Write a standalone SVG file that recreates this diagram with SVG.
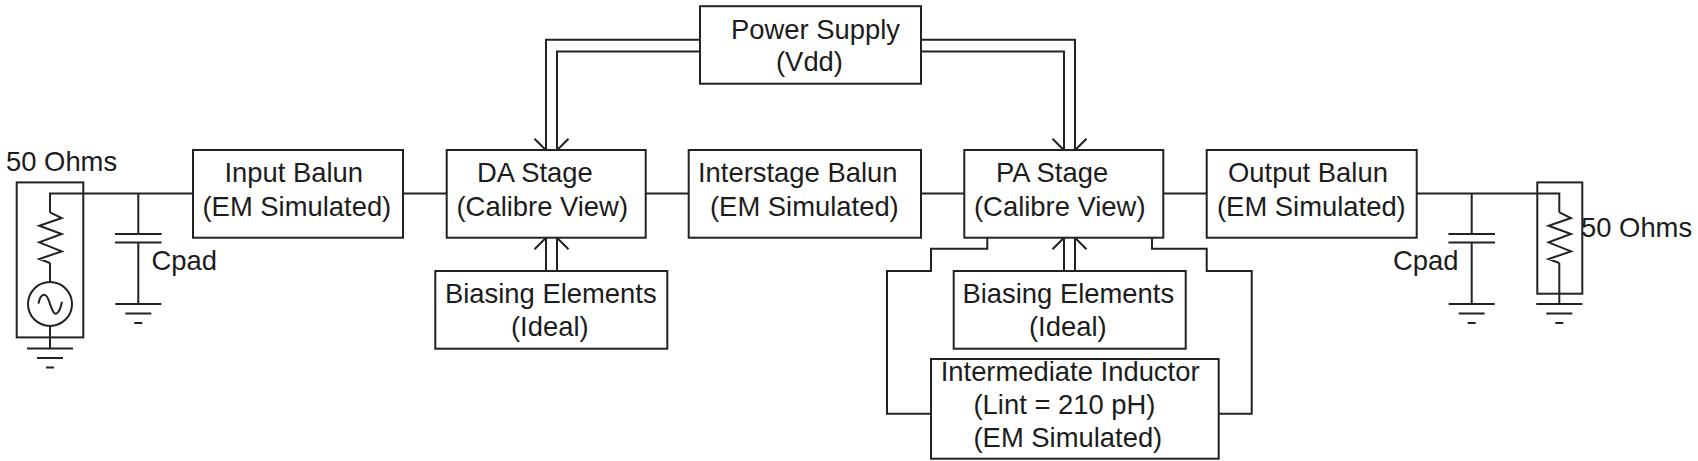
<svg xmlns="http://www.w3.org/2000/svg" width="1698" height="461" viewBox="0 0 1698 461">
<style>
rect,path,circle,line{fill:none;stroke:#222;stroke-width:2}
rect.b{fill:#fff}
text{font-family:"Liberation Sans",Arial,sans-serif;font-size:27.400px;fill:#1c1c1c}
</style>
<defs>
<path id="gnd" d="M-23 0H23M-13 9.500H13M-4 19H4"/>
<path id="res" d="M0 0L11.700 5.600L-10.700 13.300L11.700 21.600L-10.700 30L11.700 39L-10.700 46.600L0 50.600"/>
<path id="cap" d="M0 0V40.600M-23.300 40.600H23.300M-23.300 49H23.300M0 49V110.600"/>
</defs>
<rect width="1698" height="461" fill="#fff" style="stroke:none"/>
<g transform="translate(0 0.700)">
<g id="connectors">
<path d="M193 192.700H50V211.700"/>
<path d="M50 262.300V281"/>
<path d="M50 325V347.700"/>
<path d="M403 192.700H447M646 192.700H689M921 192.700H964.300M1163.300 192.700H1206.700"/>
<path d="M1416.700 192.700H1559.300V211.700M1559.300 262.300V303.300"/>
<path d="M700 39H546V149M700 50.700H557V149M534.500 138L546 149.500M568.500 138L557 149.500"/>
<path d="M921 39H1075V149M921 50.700H1064V149M1052.500 138L1064 149.500M1086.500 138L1075 149.500"/>
<path d="M546 270.300V237M557 270.300V237M534.500 248.500L546 237M568.500 248.500L557 237"/>
<path d="M1064 270.300V237M1075 270.300V237M1052.500 248.500L1064 237M1086.500 248.500L1075 237"/>
<path d="M987.300 237V248H931V270.300H887V413H931"/>
<path d="M1152 237V248H1206.700V270.300H1251.700V413H1218.700"/>
</g>
<g id="source-50-ohms">
<rect x="16.700" y="181.700" width="66.600" height="155"/>
<use href="#res" x="50" y="211.700"/>
<circle cx="50" cy="303.300" r="22"/>
<path d="M38.500 303C40 294 45 291 48 298S53 314 56 313 61 306 62 301"/>
<use href="#gnd" x="50" y="347.700"/>
<text x="6" y="170.500">50 Ohms</text>
</g>
<g id="cpad-left">
<use href="#cap" x="138.300" y="192.700"/>
<use href="#gnd" x="138.300" y="303.300"/>
<text x="151.500" y="269">Cpad</text>
</g>
<g id="input-balun">
<rect class="b" x="193" y="149.300" width="210" height="87.700"/>
<text x="224.500" y="181">Input Balun</text>
<text x="202.500" y="215">(EM Simulated)</text>
</g>
<g id="da-stage">
<rect class="b" x="446.700" y="149.300" width="199" height="87.700"/>
<text x="477" y="181">DA Stage</text>
<text x="456.500" y="215">(Calibre View)</text>
</g>
<g id="interstage-balun">
<rect class="b" x="688.700" y="149.300" width="232.300" height="87.700"/>
<text x="698" y="181">Interstage Balun</text>
<text x="710" y="215">(EM Simulated)</text>
</g>
<g id="pa-stage">
<rect class="b" x="964.300" y="149.300" width="199" height="87.700"/>
<text x="996" y="181">PA Stage</text>
<text x="974" y="215">(Calibre View)</text>
</g>
<g id="output-balun">
<rect class="b" x="1206.700" y="149.300" width="210" height="87.700"/>
<text x="1228" y="181">Output Balun</text>
<text x="1217" y="215">(EM Simulated)</text>
</g>
<g id="power-supply">
<rect class="b" x="700" y="5.500" width="221" height="77.500"/>
<text x="731" y="38">Power Supply</text>
<text x="776" y="70.500">(Vdd)</text>
</g>
<g id="biasing-da">
<rect class="b" x="435.300" y="270.300" width="232" height="77.700"/>
<text x="445" y="302.500">Biasing Elements</text>
<text x="511" y="335.500">(Ideal)</text>
</g>
<g id="biasing-pa">
<rect class="b" x="953.700" y="270.300" width="232" height="77.700"/>
<text x="962.500" y="302.500">Biasing Elements</text>
<text x="1029" y="335.500">(Ideal)</text>
</g>
<g id="intermediate-inductor">
<rect class="b" x="931" y="358.300" width="287.700" height="99.700"/>
<text x="940.700" y="380">Intermediate Inductor</text>
<text x="973.500" y="413">(Lint = 210 pH)</text>
<text x="973.500" y="446.500">(EM Simulated)</text>
</g>
<g id="cpad-right">
<use href="#cap" x="1471.700" y="192.700"/>
<use href="#gnd" x="1471.700" y="303.300"/>
<text x="1393" y="269">Cpad</text>
</g>
<g id="load-50-ohms">
<rect x="1537.300" y="181.700" width="45" height="111.300"/>
<use href="#res" x="1559.300" y="211.700"/>
<use href="#gnd" x="1559.300" y="303.300"/>
<text x="1581" y="236">50 Ohms</text>
</g>
</g>
</svg>
